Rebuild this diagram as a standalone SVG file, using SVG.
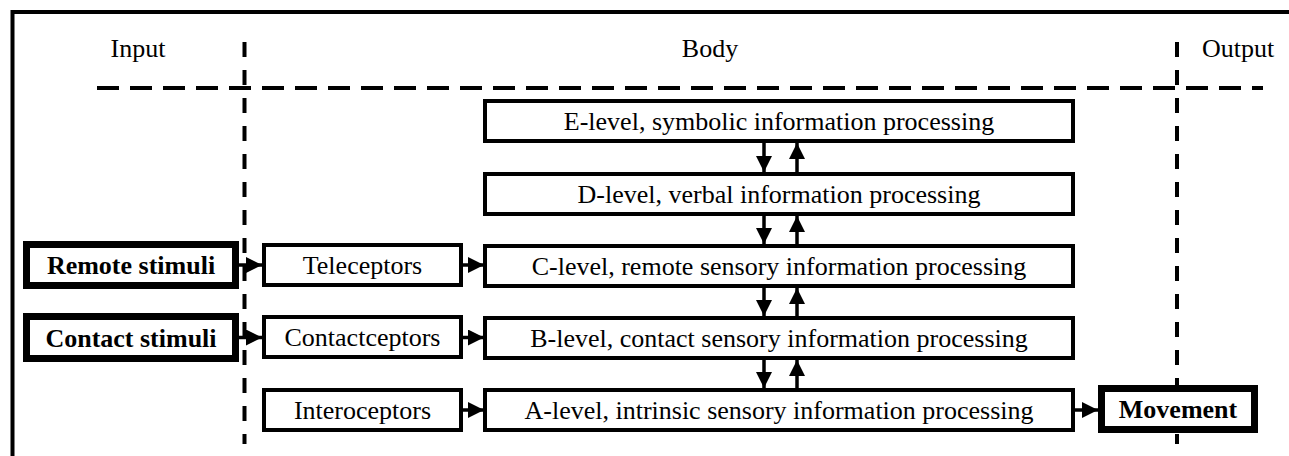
<svg xmlns="http://www.w3.org/2000/svg" width="1289" height="456" viewBox="0 0 1289 456">
  <style>
    .frame { fill: none; stroke: #000; stroke-width: 4; }
    .hdash { fill: none; stroke: #000; stroke-width: 4; stroke-dasharray: 22 11; }
    .vdash { fill: none; stroke: #000; stroke-width: 4; stroke-dasharray: 15 13; }
    .box { fill: #fff; stroke: #000; stroke-width: 4; }
    .thick { fill: #fff; stroke: #000; stroke-width: 7; }
    text { font-family: "Liberation Serif", "Times New Roman", Times, Tinos, "Noto Serif", "DejaVu Serif", FreeSerif, serif; font-size: 26px; fill: #000; text-anchor: middle; }
    .bold { font-weight: bold; }
    .conn { fill: none; stroke: #000; stroke-width: 3.5; }
  </style>
  <defs>
    <marker id="arrow" markerUnits="userSpaceOnUse" markerWidth="16" markerHeight="16" refX="16" refY="8" orient="auto">
      <path d="M0,0 L16,8 L0,16 z" fill="#000"/>
    </marker>
  </defs>

  <rect x="0" y="0" width="1289" height="456" fill="#fff"/>

  <!-- outer frame (top and left edges) -->
  <path class="frame" d="M12.5,456 V12 H1289"/>

  <!-- zone separators -->
  <g id="separators">
    <line class="hdash" x1="97" y1="88" x2="1263" y2="88"/>
    <line class="vdash" x1="244.5" y1="42" x2="244.5" y2="444"/>
    <line class="vdash" x1="1177" y1="42" x2="1177" y2="444"/>
  </g>

  <!-- zone headings -->
  <g id="headings">
    <text x="138" y="57">Input</text>
    <text x="710" y="57">Body</text>
    <text x="1238" y="57">Output</text>
  </g>

  <!-- connectors -->
  <g id="connectors">
    <!-- stimuli to receptors -->
    <line class="conn" x1="239" y1="265" x2="262" y2="265" marker-end="url(#arrow)"/>
    <line class="conn" x1="239" y1="337.5" x2="262" y2="337.5" marker-end="url(#arrow)"/>
    <!-- receptors to levels -->
    <line class="conn" x1="463" y1="265" x2="484" y2="265" marker-end="url(#arrow)"/>
    <line class="conn" x1="463" y1="337.5" x2="484" y2="337.5" marker-end="url(#arrow)"/>
    <line class="conn" x1="463" y1="410" x2="484" y2="410" marker-end="url(#arrow)"/>
    <!-- A-level to movement -->
    <line class="conn" x1="1075" y1="410" x2="1098" y2="410" marker-end="url(#arrow)"/>
    <!-- E <-> D -->
    <line class="conn" x1="764" y1="143" x2="764" y2="172" marker-end="url(#arrow)"/>
    <line class="conn" x1="797" y1="172" x2="797" y2="143" marker-end="url(#arrow)"/>
    <!-- D <-> C -->
    <line class="conn" x1="764" y1="216" x2="764" y2="244" marker-end="url(#arrow)"/>
    <line class="conn" x1="797" y1="244" x2="797" y2="216" marker-end="url(#arrow)"/>
    <!-- C <-> B -->
    <line class="conn" x1="764" y1="288" x2="764" y2="316" marker-end="url(#arrow)"/>
    <line class="conn" x1="797" y1="316" x2="797" y2="288" marker-end="url(#arrow)"/>
    <!-- B <-> A -->
    <line class="conn" x1="764" y1="360" x2="764" y2="388" marker-end="url(#arrow)"/>
    <line class="conn" x1="797" y1="388" x2="797" y2="360" marker-end="url(#arrow)"/>
  </g>

  <!-- input nodes -->
  <g id="remote-stimuli">
    <rect class="thick" x="26.5" y="244.5" width="209" height="41"/>
    <text class="bold" x="131" y="274">Remote stimuli</text>
  </g>
  <g id="contact-stimuli">
    <rect class="thick" x="26.5" y="316.5" width="209" height="42"/>
    <text class="bold" x="131" y="346.5">Contact stimuli</text>
  </g>

  <!-- receptor nodes -->
  <g id="teleceptors">
    <rect class="box" x="264" y="245" width="197" height="40"/>
    <text x="362.5" y="274">Teleceptors</text>
  </g>
  <g id="contactceptors">
    <rect class="box" x="264" y="317" width="197" height="40"/>
    <text x="362.5" y="346">Contactceptors</text>
  </g>
  <g id="interoceptors">
    <rect class="box" x="264" y="390" width="197" height="40"/>
    <text x="362.5" y="419">Interoceptors</text>
  </g>

  <!-- processing levels -->
  <g id="e-level">
    <rect class="box" x="485" y="101" width="588" height="40"/>
    <text x="779" y="130">E-level, symbolic information processing</text>
  </g>
  <g id="d-level">
    <rect class="box" x="485" y="174" width="588" height="40"/>
    <text x="779" y="203">D-level, verbal information processing</text>
  </g>
  <g id="c-level">
    <rect class="box" x="485" y="246" width="588" height="40"/>
    <text x="779" y="275">C-level, remote sensory information processing</text>
  </g>
  <g id="b-level">
    <rect class="box" x="485" y="318" width="588" height="40"/>
    <text x="779" y="347">B-level, contact sensory information processing</text>
  </g>
  <g id="a-level">
    <rect class="box" x="485" y="390" width="588" height="40"/>
    <text x="779" y="419">A-level, intrinsic sensory information processing</text>
  </g>

  <!-- output node -->
  <g id="movement">
    <rect class="thick" x="1101.5" y="388.5" width="153" height="41"/>
    <text class="bold" x="1178" y="418">Movement</text>
  </g>
</svg>
